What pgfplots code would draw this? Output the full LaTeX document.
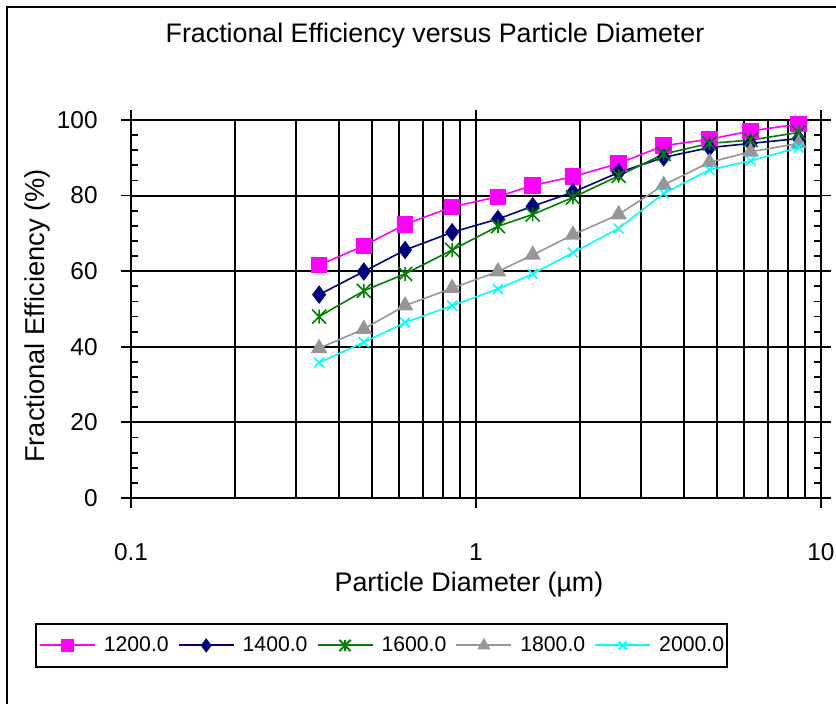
\documentclass[border=0pt]{standalone}
\usepackage{fontspec}
\setmainfont{Liberation Sans}
\usepackage{pgfplots}
\pgfplotsset{compat=1.18}
\definecolor{cPink}{RGB}{255,0,255}
\definecolor{cNavy}{RGB}{0,0,128}
\definecolor{cGreen}{RGB}{0,128,0}
\definecolor{cGray}{RGB}{150,150,150}
\definecolor{cCyan}{RGB}{0,255,255}
\pgfdeclareplotmark{xstar}{%
  \pgfpathmoveto{\pgfqpoint{-\pgfplotmarksize}{-\pgfplotmarksize}}%
  \pgfpathlineto{\pgfqpoint{\pgfplotmarksize}{\pgfplotmarksize}}%
  \pgfpathmoveto{\pgfqpoint{-\pgfplotmarksize}{\pgfplotmarksize}}%
  \pgfpathlineto{\pgfqpoint{\pgfplotmarksize}{-\pgfplotmarksize}}%
  \pgfpathmoveto{\pgfqpoint{0pt}{-\pgfplotmarksize}}%
  \pgfpathlineto{\pgfqpoint{0pt}{\pgfplotmarksize}}%
  \pgfusepathqstroke}
\begin{document}
\begin{tikzpicture}[x=1pt,y=1pt]
\useasboundingbox (0,0) rectangle (418,352);
\draw[line width=1pt] (3.5,-10) -- (3.5,348.5) -- (430,348.5);
\node[font=\fontsize{13.4}{16}\selectfont] at (217.5,334) {Fractional Efficiency versus Particle Diameter};
\node[font=\fontsize{13.65}{16}\selectfont, rotate=90] at (18.5,194) {Fractional Efficiency (\%)};
\node[font=\fontsize{13.4}{16}\selectfont] at (234.5,59.5) {Particle Diameter (µm)};
\draw[line width=1pt] (18,18.5) rectangle (363.5,40);
\begin{axis}[
  at={(65.5pt,103pt)}, anchor=south west,
  scale only axis, width=345pt, height=189pt,
  xmode=log, xmin=0.1, xmax=10, ymin=0, ymax=100,
  xtick={0.1,1,10}, xticklabels={0.1,1,10},
  ytick={0,20,40,60,80,100},
  extra y ticks={4,8,12,16,24,28,32,36,44,48,52,56,64,68,72,76,84,88,92,96},
  extra y tick labels={},
  extra y tick style={tick align=inside, major tick length=3.5pt, grid=none},
  tick align=outside, major tick length=5pt, minor tick length=0pt,
  xmajorgrids=true, xminorgrids=true, ymajorgrids=true,
  grid style={black, line width=1pt},
  minor grid style={black, line width=1pt},
  axis line style={black, line width=1pt},
  tick style={black, line width=0.9pt},
  /pgf/number format/assume math mode=true,
  tick label style={font=\fontsize{12.2}{14}\selectfont},
  yticklabel style={anchor=east, inner sep=0pt, xshift=-11.5pt},
  xticklabel style={anchor=center, inner sep=0pt, yshift=-22pt},
  legend columns=5,
  legend style={at={(0.363,-0.3902)}, anchor=center, draw=none, fill=none,
    font=\fontsize{10.6}{12}\selectfont, inner xsep=0pt, inner ysep=3pt,
    nodes={inner xsep=0pt, inner ysep=2pt},
    /tikz/every even column/.append style={column sep=4.5pt},
    /tikz/every odd column/.append style={column sep=4pt}},
  legend image code/.code={\draw[mark repeat=2,mark phase=2,line width=1pt,mark size=2.8pt] plot coordinates {(0pt,0pt) (13.75pt,0pt) (27.5pt,0pt)};},
  every axis plot/.append style={line width=0.8pt},
]
\addplot[color=cPink, mark=square*, mark size=3.7pt, mark options={solid, fill=cPink, draw=cPink},
  legend image post style={draw=cPink}] coordinates {
(0.351,61.6) (0.473,66.7) (0.623,72.4) (0.853,77.0) (1.158,79.7) (1.46,82.7)
(1.91,85.0) (2.59,88.5) (3.50,93.2) (4.75,94.9) (6.25,97.1) (8.61,98.9)};
\addlegendentry{1200.0}
\addplot[color=cNavy, mark=diamond*, mark size=4pt, mark options={fill=cNavy, draw=cNavy},
  legend image post style={draw=cNavy}] coordinates {
(0.351,53.8) (0.473,59.9) (0.623,65.6) (0.853,70.3) (1.158,73.8) (1.46,77.2)
(1.91,80.9) (2.59,86.1) (3.50,90.1) (4.75,92.7) (6.25,93.8) (8.61,95.1)};
\addlegendentry{1400.0}
\addplot[color=cGreen, mark=xstar, mark size=3.5pt,
  legend image post style={draw=cGreen}] coordinates {
(0.351,48.0) (0.473,54.8) (0.623,59.3) (0.853,65.6) (1.158,71.9) (1.46,75.0)
(1.91,79.5) (2.59,85.2) (3.50,91.0) (4.75,93.8) (6.25,94.7) (8.61,96.7)};
\addlegendentry{1600.0}
\addplot[color=cGray, mark=triangle*, mark size=4pt, mark options={fill=cGray, draw=cGray},
  legend image post style={draw=cGray}] coordinates {
(0.351,39.6) (0.473,44.7) (0.623,50.9) (0.853,55.5) (1.158,59.9) (1.46,64.3)
(1.91,69.6) (2.59,75.0) (3.50,82.8) (4.75,88.8) (6.25,91.6) (8.61,93.8)};
\addlegendentry{1800.0}
\addplot[color=cCyan, mark=x, mark size=3.5pt,
  legend image post style={draw=cCyan}] coordinates {
(0.351,35.8) (0.473,41.2) (0.623,46.4) (0.853,50.9) (1.158,55.3) (1.46,59.3)
(1.91,64.9) (2.59,71.3) (3.50,80.6) (4.75,86.8) (6.25,89.2) (8.61,92.7)};
\addlegendentry{2000.0}
\end{axis}
\end{tikzpicture}
\end{document}
